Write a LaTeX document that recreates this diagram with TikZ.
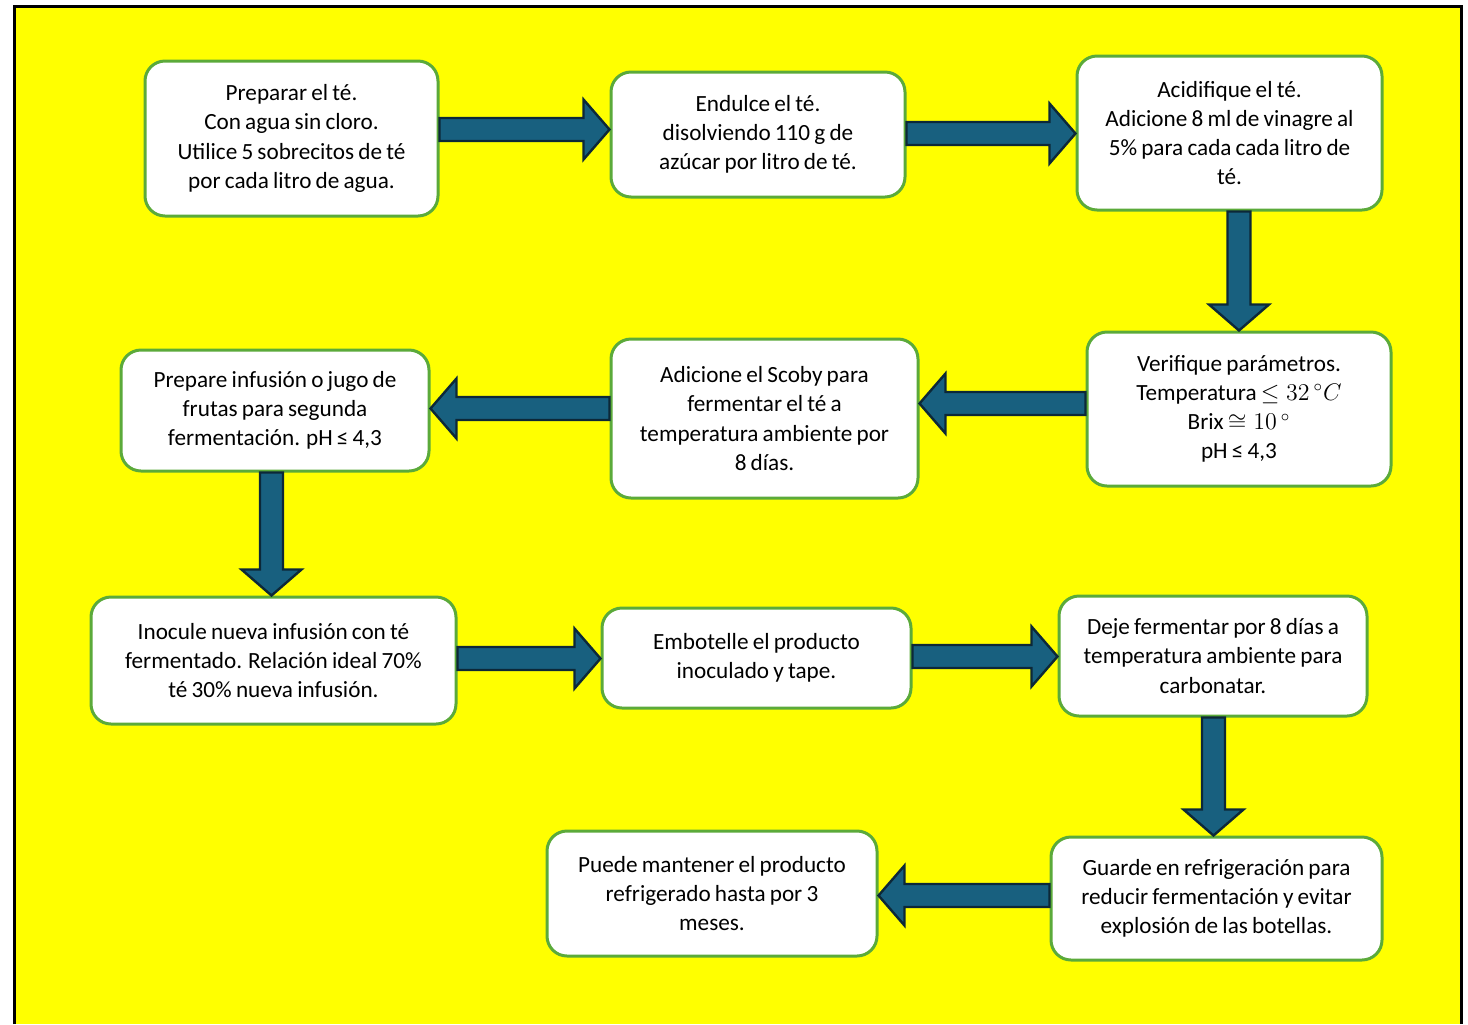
\documentclass[tikz,border=0pt]{standalone}
\usepackage{fontspec}
\setmainfont{Carlito}[WordSpace={0.8,0.5,0.3}]
\usetikzlibrary{calc}
\definecolor{bgyellow}{HTML}{FFFF00}
\definecolor{boxline}{HTML}{5BAA3A}
\definecolor{arrfill}{HTML}{18607F}
\definecolor{arrline}{HTML}{0C2838}
\tikzset{
  box/.style={draw=boxline, line width=1.5pt, fill=white, rounded corners=10pt,
    align=center, inner sep=0pt, font=\fontsize{11.6}{14.6}\selectfont},
  arr/.style={fill=arrfill, draw=arrline, line width=1.2pt, line join=miter}
}
\newcommand\barrow[2]{%
  \coordinate (baS) at (#1);
  \coordinate (baE) at (#2);
  \coordinate (baH) at ($(baE)!13pt!(baS)$);
  \draw[arr] ($(baS)!5.75pt!90:(baE)$) -- ($(baH)!5.75pt!90:(baE)$)
    -- ($(baH)!15pt!90:(baE)$) -- (baE) -- ($(baH)!15pt!-90:(baE)$)
    -- ($(baH)!5.75pt!-90:(baE)$) -- ($(baS)!5.75pt!-90:(baE)$) -- cycle;
}
\begin{document}
\begin{tikzpicture}[x=0.5pt,y=-0.5pt]
\useasboundingbox (0,0) rectangle (1468,1024);
\fill[white] (0,0) rectangle (1468,1024);
\fill[bgyellow] (14,6) rectangle (1461,1024);
\draw[line width=1.5pt] (14,1024) -- (14,6) -- (1461,6) -- (1461,1024);

\node[box, minimum width=146.5pt, minimum height=77.5pt] (b1) at (291.5,138.5)
  {Preparar el té.\\Con agua sin cloro.\\Utilice 5 sobrecitos de té\\por cada litro de agua.};
\node[box, minimum width=147pt, minimum height=62.5pt] (b2) at (758,134.5)
  {Endulce el té.\\disolviendo 110 g de\\azúcar por litro de té.};
\node[box, minimum width=152.5pt, minimum height=77pt] (b3) at (1229.5,133)
  {Acidifique el té.\\Adicione 8 ml de vinagre al\\5\% para cada cada litro de\\té.};
\node[box, minimum width=152pt, minimum height=77pt] (b4) at (1239,409)
  {Verifique parámetros.\\Temperatura $\leq 32\,{}^{\circ}C$\\Brix $\cong 10\,{}^{\circ}$\\pH ≤ 4,3};
\node[box, minimum width=153.5pt, minimum height=79.5pt] (b5) at (764.5,418.5)
  {Adicione el Scoby para\\fermentar el té a\\temperatura ambiente por\\8 días.};
\node[box, minimum width=154pt, minimum height=60.5pt] (b6) at (275,410.5)
  {Prepare infusión o jugo de\\frutas para segunda\\fermentación. pH ≤ 4,3};
\node[box, minimum width=182.5pt, minimum height=63.5pt] (b7) at (273.5,660.5)
  {Inocule nueva infusión con té\\fermentado. Relación ideal 70\%\\té 30\% nueva infusión.};
\node[box, minimum width=154.5pt, minimum height=50pt] (b8) at (756.5,658)
  {Embotelle el producto\\inoculado y tape.};
\node[box, minimum width=154pt, minimum height=60pt] (b9) at (1213,656)
  {Deje fermentar por 8 días a\\temperatura ambiente para\\carbonatar.};
\node[box, minimum width=165.5pt, minimum height=61.5pt] (b10) at (1216.5,898.5)
  {Guarde en refrigeración para\\reducir fermentación y evitar\\explosión de las botellas.};
\node[box, minimum width=165pt, minimum height=62.5pt] (b11) at (712,893.5)
  {Puede mantener el producto\\refrigerado hasta por 3\\meses.};

\coordinate (y1) at (0,129.5);
\coordinate (y2) at (0,133.5);
\coordinate (x3) at (1239,0);
\coordinate (y4) at (0,403.5);
\coordinate (y5) at (0,408.5);
\coordinate (x6) at (271.5,0);
\coordinate (y7) at (0,658.5);
\coordinate (y8) at (0,656.5);
\coordinate (x9) at (1213.5,0);
\coordinate (y10) at (0,895.5);

\barrow{b1.east |- y1}{b2.west |- y1}
\barrow{b2.east |- y2}{b3.west |- y2}
\barrow{b3.south -| x3}{b4.north -| x3}
\barrow{b4.west |- y4}{b5.east |- y4}
\barrow{b5.west |- y5}{b6.east |- y5}
\barrow{b6.south -| x6}{b7.north -| x6}
\barrow{b7.east |- y7}{b8.west |- y7}
\barrow{b8.east |- y8}{b9.west |- y8}
\barrow{b9.south -| x9}{b10.north -| x9}
\barrow{b10.west |- y10}{b11.east |- y10}
\end{tikzpicture}
\end{document}
